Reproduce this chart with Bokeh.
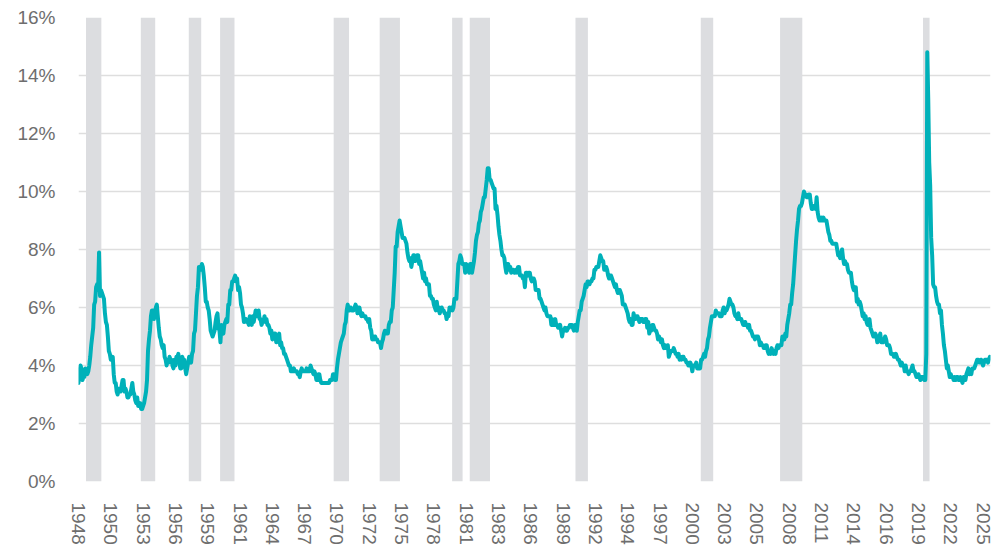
import pandas as pd
from bokeh.plotting import figure
from bokeh.models import FixedTicker, Range1d, ColumnDataSource
from bokeh.embed import file_html
from bokeh.resources import INLINE

# Monthly US unemployment rate (%), Jan 1948 - Aug 2025
rate_1940s = [
    3.4, 3.8, 4.0, 3.9, 3.5, 3.6, 3.6, 3.9, 3.8, 3.7, 3.8, 4.0,
    4.3, 4.7, 5.0, 5.3, 6.1, 6.2, 6.7, 6.8, 6.6, 7.9, 6.4, 6.6,
]
rate_1950s = [
    6.5, 6.4, 6.3, 5.8, 5.5, 5.4, 5.0, 4.5, 4.4, 4.2, 4.2, 4.3,
    3.7, 3.4, 3.4, 3.1, 3.0, 3.2, 3.1, 3.1, 3.3, 3.5, 3.5, 3.1,
    3.2, 3.1, 2.9, 2.9, 3.0, 3.0, 3.2, 3.4, 3.1, 3.0, 2.8, 2.7,
    2.9, 2.6, 2.6, 2.7, 2.5, 2.5, 2.6, 2.7, 2.9, 3.1, 3.5, 4.5,
    4.9, 5.2, 5.7, 5.9, 5.9, 5.6, 5.8, 6.0, 6.1, 5.7, 5.3, 5.0,
    4.9, 4.7, 4.6, 4.7, 4.3, 4.2, 4.0, 4.2, 4.1, 4.3, 4.2, 4.2,
    4.0, 3.9, 4.2, 4.0, 4.3, 4.3, 4.4, 4.1, 3.9, 3.9, 4.3, 4.2,
    4.2, 3.9, 3.7, 3.9, 4.1, 4.3, 4.2, 4.1, 4.4, 4.5, 5.1, 5.2,
    5.8, 6.4, 6.7, 7.4, 7.4, 7.3, 7.5, 7.4, 7.1, 6.7, 6.2, 6.2,
    6.0, 5.9, 5.6, 5.2, 5.1, 5.0, 5.1, 5.2, 5.5, 5.7, 5.8, 5.3,
]
rate_1960s = [
    5.2, 4.8, 5.4, 5.2, 5.1, 5.4, 5.5, 5.6, 5.5, 6.1, 6.1, 6.6,
    6.6, 6.9, 6.9, 7.0, 7.1, 6.9, 7.0, 6.6, 6.7, 6.5, 6.1, 6.0,
    5.8, 5.5, 5.6, 5.6, 5.5, 5.5, 5.4, 5.7, 5.6, 5.4, 5.7, 5.5,
    5.7, 5.9, 5.7, 5.7, 5.9, 5.6, 5.6, 5.4, 5.5, 5.5, 5.7, 5.5,
    5.6, 5.4, 5.4, 5.3, 5.1, 5.2, 4.9, 5.0, 5.1, 5.1, 4.8, 5.0,
    4.9, 5.1, 4.7, 4.8, 4.6, 4.6, 4.4, 4.4, 4.3, 4.2, 4.1, 4.0,
    4.0, 3.8, 3.8, 3.8, 3.9, 3.8, 3.8, 3.8, 3.7, 3.7, 3.6, 3.8,
    3.9, 3.8, 3.8, 3.8, 3.8, 3.9, 3.8, 3.8, 3.8, 4.0, 3.9, 3.8,
    3.7, 3.8, 3.7, 3.5, 3.5, 3.7, 3.7, 3.5, 3.4, 3.4, 3.4, 3.4,
    3.4, 3.4, 3.4, 3.4, 3.4, 3.5, 3.5, 3.5, 3.7, 3.7, 3.5, 3.5,
]
rate_1970s = [
    3.9, 4.2, 4.4, 4.6, 4.8, 4.9, 5.0, 5.1, 5.4, 5.5, 5.9, 6.1,
    5.9, 5.9, 6.0, 5.9, 5.9, 5.9, 6.0, 6.1, 6.0, 5.8, 6.0, 6.0,
    5.8, 5.7, 5.8, 5.7, 5.7, 5.7, 5.6, 5.6, 5.5, 5.6, 5.3, 5.2,
    4.9, 5.0, 4.9, 5.0, 4.9, 4.9, 4.8, 4.8, 4.8, 4.6, 4.8, 4.9,
    5.1, 5.2, 5.1, 5.1, 5.1, 5.4, 5.5, 5.5, 5.9, 6.0, 6.6, 7.2,
    8.1, 8.1, 8.6, 8.8, 9.0, 8.8, 8.6, 8.4, 8.4, 8.4, 8.3, 8.2,
    7.9, 7.7, 7.6, 7.7, 7.4, 7.6, 7.8, 7.8, 7.6, 7.7, 7.8, 7.8,
    7.5, 7.6, 7.4, 7.2, 7.0, 7.2, 6.9, 7.0, 6.8, 6.8, 6.8, 6.4,
    6.4, 6.3, 6.3, 6.1, 6.0, 5.9, 6.2, 5.9, 6.0, 5.8, 5.9, 6.0,
    5.9, 5.9, 5.8, 5.8, 5.6, 5.7, 5.7, 6.0, 5.9, 6.0, 5.9, 6.0,
]
rate_1980s = [
    6.3, 6.3, 6.3, 6.9, 7.5, 7.6, 7.8, 7.7, 7.5, 7.5, 7.5, 7.2,
    7.5, 7.4, 7.4, 7.2, 7.5, 7.5, 7.2, 7.4, 7.6, 7.9, 8.3, 8.5,
    8.6, 8.9, 9.0, 9.3, 9.4, 9.6, 9.8, 9.8, 10.1, 10.4, 10.8, 10.8,
    10.4, 10.4, 10.3, 10.2, 10.1, 10.1, 9.4, 9.5, 9.2, 8.8, 8.5, 8.3,
    8.0, 7.8, 7.8, 7.7, 7.4, 7.2, 7.5, 7.5, 7.3, 7.4, 7.2, 7.3,
    7.3, 7.2, 7.2, 7.3, 7.2, 7.4, 7.4, 7.1, 7.1, 7.1, 7.0, 7.0,
    6.7, 7.2, 7.2, 7.1, 7.2, 7.2, 7.0, 6.9, 7.0, 7.0, 6.9, 6.6,
    6.6, 6.6, 6.6, 6.3, 6.3, 6.2, 6.1, 6.0, 5.9, 6.0, 5.8, 5.7,
    5.7, 5.7, 5.7, 5.4, 5.6, 5.4, 5.4, 5.6, 5.4, 5.4, 5.3, 5.3,
    5.4, 5.2, 5.0, 5.2, 5.2, 5.3, 5.2, 5.2, 5.3, 5.3, 5.4, 5.4,
]
rate_1990s = [
    5.4, 5.3, 5.2, 5.4, 5.4, 5.2, 5.5, 5.7, 5.9, 5.9, 6.2, 6.3,
    6.4, 6.6, 6.8, 6.7, 6.9, 6.9, 6.8, 6.9, 6.9, 7.0, 7.0, 7.3,
    7.3, 7.4, 7.4, 7.4, 7.6, 7.8, 7.7, 7.6, 7.6, 7.3, 7.4, 7.4,
    7.3, 7.1, 7.0, 7.1, 7.1, 7.0, 6.9, 6.8, 6.7, 6.8, 6.6, 6.5,
    6.6, 6.6, 6.5, 6.4, 6.1, 6.1, 6.1, 6.0, 5.9, 5.8, 5.6, 5.5,
    5.6, 5.4, 5.4, 5.8, 5.6, 5.6, 5.7, 5.7, 5.6, 5.5, 5.6, 5.6,
    5.6, 5.5, 5.5, 5.6, 5.6, 5.3, 5.5, 5.1, 5.2, 5.2, 5.4, 5.4,
    5.3, 5.2, 5.2, 5.1, 4.9, 5.0, 4.9, 4.8, 4.9, 4.7, 4.6, 4.7,
    4.6, 4.6, 4.7, 4.3, 4.4, 4.5, 4.5, 4.5, 4.6, 4.5, 4.4, 4.4,
    4.3, 4.4, 4.2, 4.3, 4.2, 4.3, 4.3, 4.2, 4.2, 4.1, 4.1, 4.0,
]
rate_2000s = [
    4.0, 4.1, 4.0, 3.8, 4.0, 4.0, 4.0, 4.1, 3.9, 3.9, 3.9, 3.9,
    4.2, 4.2, 4.3, 4.4, 4.3, 4.5, 4.6, 4.9, 5.0, 5.3, 5.5, 5.7,
    5.7, 5.7, 5.7, 5.9, 5.8, 5.8, 5.8, 5.7, 5.7, 5.7, 5.9, 6.0,
    5.8, 5.9, 5.9, 6.0, 6.1, 6.3, 6.2, 6.1, 6.1, 6.0, 5.8, 5.7,
    5.7, 5.6, 5.8, 5.6, 5.6, 5.6, 5.5, 5.4, 5.4, 5.5, 5.4, 5.4,
    5.3, 5.4, 5.2, 5.2, 5.1, 5.0, 5.0, 4.9, 5.0, 5.0, 5.0, 4.9,
    4.7, 4.8, 4.7, 4.7, 4.6, 4.6, 4.7, 4.7, 4.5, 4.4, 4.5, 4.4,
    4.6, 4.5, 4.4, 4.5, 4.4, 4.6, 4.7, 4.6, 4.7, 4.7, 4.7, 5.0,
    5.0, 4.9, 5.1, 5.0, 5.4, 5.6, 5.8, 6.1, 6.1, 6.5, 6.8, 7.3,
    7.8, 8.3, 8.7, 9.0, 9.4, 9.5, 9.5, 9.6, 9.8, 10.0, 9.9, 9.9,
]
rate_2010s = [
    9.8, 9.8, 9.9, 9.9, 9.6, 9.4, 9.4, 9.5, 9.5, 9.4, 9.8, 9.3,
    9.1, 9.0, 9.0, 9.1, 9.0, 9.1, 9.0, 9.0, 9.0, 8.8, 8.6, 8.5,
    8.3, 8.3, 8.2, 8.2, 8.2, 8.2, 8.2, 8.0, 7.8, 7.8, 7.7, 7.9,
    8.0, 7.7, 7.5, 7.6, 7.5, 7.5, 7.3, 7.2, 7.2, 7.2, 6.9, 6.7,
    6.6, 6.7, 6.7, 6.2, 6.3, 6.1, 6.2, 6.1, 5.9, 5.7, 5.8, 5.6,
    5.7, 5.5, 5.4, 5.4, 5.6, 5.3, 5.2, 5.1, 5.0, 5.0, 5.1, 5.0,
    4.8, 4.9, 5.0, 5.1, 4.8, 4.9, 4.8, 4.9, 5.0, 4.9, 4.7, 4.7,
    4.7, 4.6, 4.4, 4.4, 4.4, 4.3, 4.3, 4.4, 4.3, 4.2, 4.2, 4.1,
    4.0, 4.1, 4.0, 4.0, 3.8, 4.0, 3.8, 3.8, 3.7, 3.8, 3.8, 3.9,
    4.0, 3.8, 3.8, 3.7, 3.6, 3.6, 3.7, 3.6, 3.5, 3.6, 3.6, 3.6,
]
rate_2020s = [
    3.5, 3.5, 4.4, 14.8, 13.2, 11.0, 10.2, 8.4, 7.8, 6.8, 6.7, 6.7,
    6.4, 6.2, 6.1, 6.1, 5.8, 5.9, 5.4, 5.1, 4.7, 4.5, 4.2, 3.9,
    4.0, 3.8, 3.6, 3.7, 3.6, 3.6, 3.5, 3.6, 3.5, 3.6, 3.6, 3.5,
    3.5, 3.6, 3.5, 3.4, 3.6, 3.6, 3.5, 3.7, 3.8, 3.9, 3.7, 3.8,
    3.7, 3.9, 3.9, 3.9, 4.0, 4.1, 4.2, 4.2, 4.1, 4.1, 4.2, 4.1,
    4.0, 4.1, 4.2, 4.2, 4.2, 4.1, 4.2, 4.3,
]

first_month = "1948-01"

# NBER recessions (first and last month)
recession_starts = ["1948-11", "1953-07", "1957-08", "1960-04", "1969-12", "1973-11",
                    "1980-01", "1981-07", "1990-07", "2001-03", "2007-12", "2020-02"]
recession_ends = ["1949-10", "1954-05", "1958-04", "1961-02", "1970-11", "1975-03",
                  "1980-07", "1982-11", "1991-03", "2001-11", "2009-06", "2020-04"]

# axis ticks
x_tick_labels = ["1948", "1950", "1953", "1956", "1959", "1961", "1964", "1967", "1970",
                 "1972", "1975", "1978", "1981", "1983", "1986", "1989", "1992", "1994",
                 "1997", "2000", "2003", "2005", "2008", "2011", "2014", "2016", "2019",
                 "2022", "2025"]
y_ticks = [0, 2, 4, 6, 8, 10, 12, 14, 16]
y_tick_labels = ["0%", "2%", "4%", "6%", "8%", "10%", "12%", "14%", "16%"]

# ---------------------------------------------------------------
rate = rate_1940s + rate_1950s + rate_1960s + rate_1970s + rate_1980s + \
    rate_1990s + rate_2000s + rate_2010s + rate_2020s
start = pd.Period(first_month, "M")


def month_index(s):
    return (pd.Period(s, "M") - start).n


x = list(range(len(rate)))
src = ColumnDataSource(dict(x=x, rate=rate))

TICK_STEP = 33   # months between labels
PAD = 2.35       # visual padding of recession bands (months)
FONT = "Liberation Sans"
TXT = "#6e6e6e"

rec_left = [month_index(s) - PAD for s in recession_starts]
rec_right = [month_index(e) + PAD for e in recession_ends]

p = figure(frame_width=912, frame_height=464,
           x_range=Range1d(0, len(rate) - 0.4), y_range=Range1d(0, 16),
           output_backend="svg", toolbar_location=None,
           min_border_left=78, min_border_right=7, min_border_top=17,
           min_border_bottom=66, outline_line_color=None,
           background_fill_color="white", border_fill_color="white")

p.quad(left=rec_left, right=rec_right, bottom=0, top=16,
       fill_color="#dcdde0", line_color=None)
p.line("x", "rate", source=src, line_color="#00b1b9", line_width=4,
       line_join="round", line_cap="round")

x_ticks = [i * TICK_STEP for i in range(len(x_tick_labels))]
p.xaxis.ticker = FixedTicker(ticks=x_ticks)
p.xaxis.major_label_overrides = {t: l for t, l in zip(x_ticks, x_tick_labels)}
p.xaxis.major_label_orientation = "vertical"
p.xaxis.major_label_standoff = 21

p.yaxis.ticker = FixedTicker(ticks=y_ticks)
p.yaxis.major_label_overrides = {t: l for t, l in zip(y_ticks, y_tick_labels)}
p.yaxis.major_label_standoff = 23

for ax in (p.xaxis, p.yaxis):
    ax.axis_line_color = None
    ax.major_tick_line_color = None
    ax.minor_tick_line_color = None
    ax.major_tick_out = 0
    ax.major_tick_in = 0
    ax.major_label_text_font = FONT
    ax.major_label_text_font_size = "19px"
    ax.major_label_text_color = TXT

p.xgrid.visible = False
p.ygrid.grid_line_color = "#dedede"
p.ygrid.grid_line_width = 1.5

open("out.html", "w").write(file_html(p, INLINE))
